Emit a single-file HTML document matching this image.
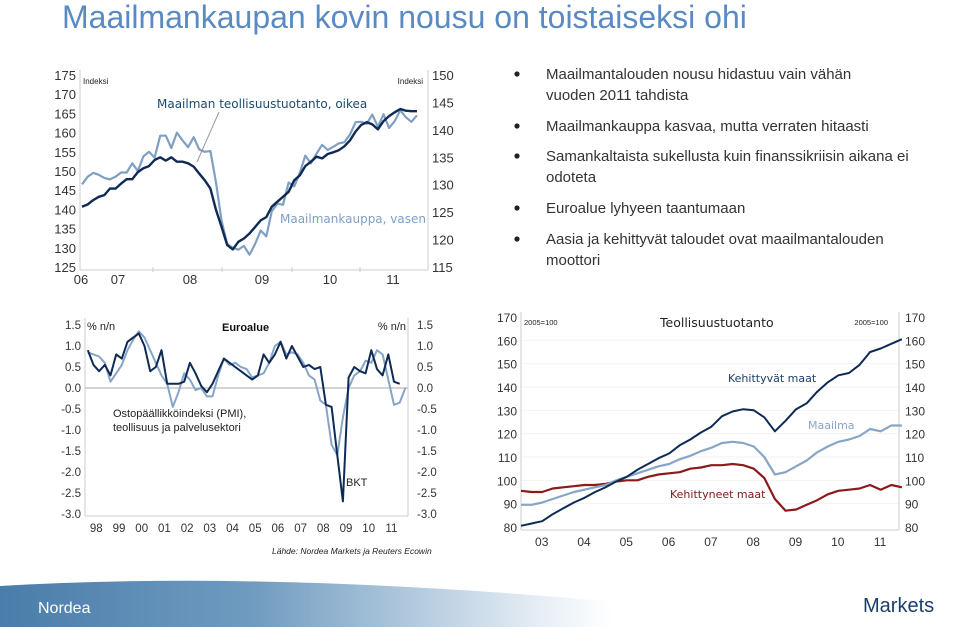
<!DOCTYPE html>
<html><head><meta charset="utf-8"><style>
body{margin:0;width:959px;height:627px;overflow:hidden;background:#fff;font-family:"Liberation Sans","DejaVu Sans",sans-serif}
svg{position:absolute;left:0;top:0}
.t{font-family:"DejaVu Sans","Liberation Sans",sans-serif}
</style></head><body>
<svg id="s" width="959" height="627" viewBox="0 0 959 627">
<defs>
<linearGradient id="fg" x1="0" x2="1" y1="0" y2="0"><stop offset="0" stop-color="#4a7daa"/><stop offset="0.35" stop-color="#6f9bc0"/><stop offset="0.75" stop-color="#e6eef5"/><stop offset="0.85" stop-color="#fff"/></linearGradient>
</defs>
<text x="62" y="28" font-size="32" fill="#5a8ac4">Maailmankaupan kovin nousu on toistaiseksi ohi</text>
<g id="bul" font-size="15" fill="#333"></g>
<g id="c1"></g>
<g id="c2"></g>
<g id="c3"></g>
<path d="M0,586 Q300,568 720,612 L720,627 L0,627 Z" fill="url(#fg)"/>
<text x="38" y="613" font-size="16" fill="#fff">Nordea</text>
<text x="863" y="612" font-size="20" fill="#1b3f6a">Markets</text>
</svg>
<script>
// ---- chart 1 data ----
const tradeVals=[146.5,148.5,149.5,149,148.2,147.8,148.5,149.6,149.6,152,150,153.8,155,153.5,159.2,159.2,156,160,158,156.2,158.8,155.6,155,155.2,147,137,131,130,129.5,130.5,128.2,131,134.5,133,139.5,141.5,141.2,147,146,149.5,154,152,154.5,156.8,155.5,156.3,157.2,157.5,159.5,162.7,162.8,162.3,164.7,161.5,164.8,161.2,163,165.8,164,162.8,164.5];
const prodVals=[126,126.4,127.2,127.8,128.1,129.3,129.3,130.2,131,131,132.3,133,133.4,134.5,135,134.4,135,134.2,134.2,133.9,133.3,132,130.8,129.3,125.4,122.3,119,118.2,119.6,120.2,121.1,122.3,123.5,124.1,126,126.9,127.8,128.7,130.8,131.7,133.4,134.2,135.1,134.8,135.6,135.9,136.3,137,138.1,139.7,140.9,141.4,141,140.1,141.6,142.5,143.2,143.8,143.5,143.4,143.4];
const c1LeftTicks=[175,170,165,160,155,150,145,140,135,130,125];
const c1RightTicks=[150,145,140,135,130,125,120,115];
const c1Years=["06","07","08","09","10","11"];
// ---- chart 2 data ----
const gdpVals=[0.9,0.55,0.4,0.55,0.3,0.8,0.7,1.1,1.2,1.3,1.0,0.4,0.5,0.9,0.1,0.1,0.1,0.15,0.6,0.35,0.05,-0.1,0.1,0.4,0.7,0.6,0.5,0.4,0.3,0.2,0.3,0.8,0.6,0.8,1.1,0.7,1.0,0.75,0.5,0.55,0.45,0.5,-0.4,-0.45,-1.6,-2.7,0.25,0.5,0.4,0.35,0.9,0.45,0.3,0.8,0.15,0.1];
const pmiVals=[0.85,0.8,0.75,0.6,0.15,0.35,0.55,0.9,1.15,1.35,1.2,0.9,0.6,0.3,0.1,-0.45,-0.1,0.35,0.2,-0.05,0.0,-0.2,-0.2,0.3,0.7,0.55,0.6,0.5,0.45,0.25,0.3,0.35,0.6,1.0,1.1,0.8,0.85,0.8,0.6,0.3,0.2,-0.3,-0.4,-1.35,-1.6,-0.7,0.0,0.3,0.4,0.65,0.6,0.9,0.8,0.2,-0.4,-0.35,0.0];
const c2Ticks=["1.5","1.0","0.5","0.0","-0.5","-1.0","-1.5","-2.0","-2.5","-3.0"];
const c2Years=["98","99","00","01","02","03","04","05","06","07","08","09","10","11"];
// ---- chart 3 data ----
const emergVals=[80.5,81.5,82.5,85.5,88,90.5,92.5,95,97,99.5,101.5,104.5,107,109.5,111.5,115,117.5,120.5,123,127.5,129.5,130.5,130,127,121,125.5,130.5,133,138,142,145,146,149.5,155,156.5,158.5,160.5];
const worldVals=[89.5,89.5,90.5,92,93.5,95,96,97,98,100,101.5,103,104.5,106,107,109,110.5,112.5,114,116,116.5,116,114.5,110,102.5,103.5,106,108.5,112,114.5,116.5,117.5,119,122,121,123.5,123.5];
const develVals=[95.5,95,95,96.5,97,97.5,98,98,98.5,99.5,100,100,101.5,102.5,103,103.5,105,105.5,106.5,106.5,107,106.5,105,101,92,87,87.5,89.5,91.5,94,95.5,96,96.5,98,96,98,97];
const c3Ticks=[170,160,150,140,130,120,110,100,90,80];
const c3Years=["03","04","05","06","07","08","09","10","11"];
const bullets=[["Maailmantalouden nousu hidastuu vain vähän","vuoden 2011 tahdista"],["Maailmankauppa kasvaa, mutta verraten hitaasti"],["Samankaltaista sukellusta kuin finanssikriisin aikana ei","odoteta"],["Euroalue lyhyeen taantumaan"],["Aasia ja kehittyvät taloudet ovat maailmantalouden","moottori"]];

const NS="http://www.w3.org/2000/svg";
function mk(p,tag,at,txt){const e=document.createElementNS(NS,tag);for(const k in at)e.setAttribute(k,at[k]);if(txt!==undefined)e.textContent=txt;p.appendChild(e);return e;}
function line(p,vals,fx,fy,col,w,name){const d=vals.map((v,i)=>(i?"L":"M")+fx(i).toFixed(1)+","+fy(v).toFixed(1)).join("");const e=mk(p,"path",{d:d,fill:"none",stroke:col,"stroke-width":w,"stroke-linejoin":"round"});return e;}
function txt(p,x,y,s,at,name){const e=mk(p,"text",Object.assign({x:x,y:y},at),s);return e;}

// bullets
const bg=document.getElementById("bul");
const bY=[[79,100],[131],[161,182],[213],[244,265]];
bullets.forEach((b,i)=>{
 const dot=mk(bg,"circle",{cx:517,cy:bY[i][0]-5,r:2.6,fill:"#222"});
 
 
 b.forEach((l,j)=>txt(bg,546,bY[i][j],l,{},"bullet-text"));
});

// chart 1
(function(){
 const g=document.getElementById("c1");
 const x0=82,x1=417,top=75,bot=267;
 const yl=v=>top+(175-v)/50*(bot-top);
 const yr=v=>top+(150-v)/35*(bot-top);
 const n=tradeVals.length;const fx=i=>x0+i*(x1-x0)/(n-1);
 mk(g,"line",{x1:80,y1:70,x2:80,y2:270,stroke:"#ccc"});
 mk(g,"line",{x1:428,y1:70,x2:428,y2:270,stroke:"#ccc"});
 mk(g,"line",{x1:80,y1:270,x2:428,y2:270,stroke:"#ccc"});
 c1LeftTicks.forEach(v=>txt(g,76,yl(v)+5,v,{"font-size":13,"text-anchor":"end",fill:"#333"},"left-axis-tick"));
 c1RightTicks.forEach(v=>txt(g,432,yr(v)+5,v,{"font-size":13,fill:"#333"},"right-axis-tick"));
 const yx=[81,118,190,262,330,393];
 c1Years.forEach((s,i)=>txt(g,yx[i],284,s,{"font-size":13,"text-anchor":"middle",fill:"#333"},"x-axis-tick"));
 [153,222,292,360].forEach(x=>mk(g,"line",{x1:x,y1:267,x2:x,y2:272,stroke:"#ccc"}));
 line(g,tradeVals,fx,yl,"#7f9fc3",2.2,"world-trade-line");
 line(g,prodVals,fx,yr,"#0e2a55",2.4,"world-production-line");
 txt(g,83,84,"Indeksi",{"font-size":8,fill:"#222"},"left-unit-label");
 txt(g,423,84,"Indeksi",{"font-size":8,fill:"#222","text-anchor":"end"},"right-unit-label");
 txt(g,157,108,"Maailman teollisuustuotanto, oikea",{"font-size":12,fill:"#1d4a6b",class:"t"},"production-label");
 txt(g,280,223,"Maailmankauppa, vasen",{"font-size":12,fill:"#7f9fc3",class:"t"},"trade-label");
 mk(g,"line",{x1:219,y1:112,x2:197,y2:162,stroke:"#999"});
})();

// chart 2
(function(){
 const g=document.getElementById("c2");
 const x0=85,top=325,bot=514;
 const fy=v=>top+(1.5-v)/4.5*(bot-top);
 const step=5.67;const fx=i=>x0+2.8+i*step;
 mk(g,"line",{x1:85,y1:318,x2:85,y2:516,stroke:"#ccc"});
 mk(g,"line",{x1:408,y1:318,x2:408,y2:516,stroke:"#ccc"});
 mk(g,"line",{x1:85,y1:516,x2:408,y2:516,stroke:"#ccc"});
 mk(g,"line",{x1:85,y1:fy(0),x2:408,y2:fy(0),stroke:"#aaa"});
 c2Ticks.forEach(s=>{txt(g,81,fy(+s)+4,s,{"font-size":11.5,"text-anchor":"end",fill:"#333"},"left-axis-tick");txt(g,417,fy(+s)+4,s,{"font-size":11.5,fill:"#333"},"right-axis-tick");});
 c2Years.forEach((s,i)=>txt(g,x0+11.3+i*22.7,532,s,{"font-size":11.5,"text-anchor":"middle",fill:"#333"},"x-axis-tick"));
 line(g,pmiVals,fx,fy,"#87a5c6",2,"pmi-line");
 line(g,gdpVals,fx,fy,"#0e2a55",2,"gdp-line");
 txt(g,87,330,"% n/n",{"font-size":11,fill:"#222"},"left-unit-label");
 txt(g,406,330,"% n/n",{"font-size":11,fill:"#222","text-anchor":"end"},"right-unit-label");
 txt(g,222,331,"Euroalue",{"font-size":11,"font-weight":"bold",fill:"#111"},"chart-title");
 txt(g,113,417,"Ostopäällikköindeksi (PMI),",{"font-size":11,fill:"#222"},"pmi-label");
 txt(g,113,431,"teollisuus ja palvelusektori",{"font-size":11,fill:"#222"},"pmi-label-2");
 txt(g,346,486,"BKT",{"font-size":11,fill:"#222"},"gdp-label");
 txt(g,272,554,"Lähde: Nordea Markets ja Reuters Ecowin",{"font-size":8.5,"font-style":"italic",fill:"#222"},"source-note");
})();

// chart 3
(function(){
 const g=document.getElementById("c3");
 const x0=521,top=317,bot=527;
 const fy=v=>top+(170-v)/90*(bot-top);
 const fx=i=>x0+i*10.58;
 c3Ticks.forEach(v=>{if(v<170&&v>80)mk(g,"line",{x1:521,y1:fy(v),x2:899,y2:fy(v),stroke:"#f2f2f2"});});
 mk(g,"line",{x1:521,y1:312,x2:521,y2:530,stroke:"#ccc"});
 mk(g,"line",{x1:899,y1:312,x2:899,y2:530,stroke:"#ccc"});
 mk(g,"line",{x1:521,y1:530,x2:899,y2:530,stroke:"#ccc"});
 c3Ticks.forEach(v=>{txt(g,517,fy(v)+5,v,{"font-size":12,"text-anchor":"end",fill:"#333"},"left-axis-tick");txt(g,905,fy(v)+5,v,{"font-size":12,fill:"#333"},"right-axis-tick");});
 c3Years.forEach((s,i)=>txt(g,541.7+i*42.3,546,s,{"font-size":12,"text-anchor":"middle",fill:"#333"},"x-axis-tick"));
 line(g,develVals,fx,fy,"#8b1a1a",2.2,"developed-line");
 line(g,worldVals,fx,fy,"#87a5c6",2.2,"world-line");
 line(g,emergVals,fx,fy,"#0e2a55",2,"emerging-line");
 txt(g,524,325,"2005=100",{"font-size":7.5,fill:"#222"},"left-unit-label");
 txt(g,888,325,"2005=100",{"font-size":7.5,fill:"#222","text-anchor":"end"},"right-unit-label");
 txt(g,660,327,"Teollisuustuotanto",{"font-size":12.5,fill:"#222",class:"t"},"chart-title");
 txt(g,728,382,"Kehittyvät maat",{"font-size":11,fill:"#1d3f66",class:"t"},"emerging-label");
 txt(g,808,429,"Maailma",{"font-size":11,fill:"#87a5c6",class:"t"},"world-label");
 txt(g,670,498,"Kehittyneet maat",{"font-size":11,fill:"#7a1a1a",class:"t"},"developed-label");
})();
</script>
</body></html>
